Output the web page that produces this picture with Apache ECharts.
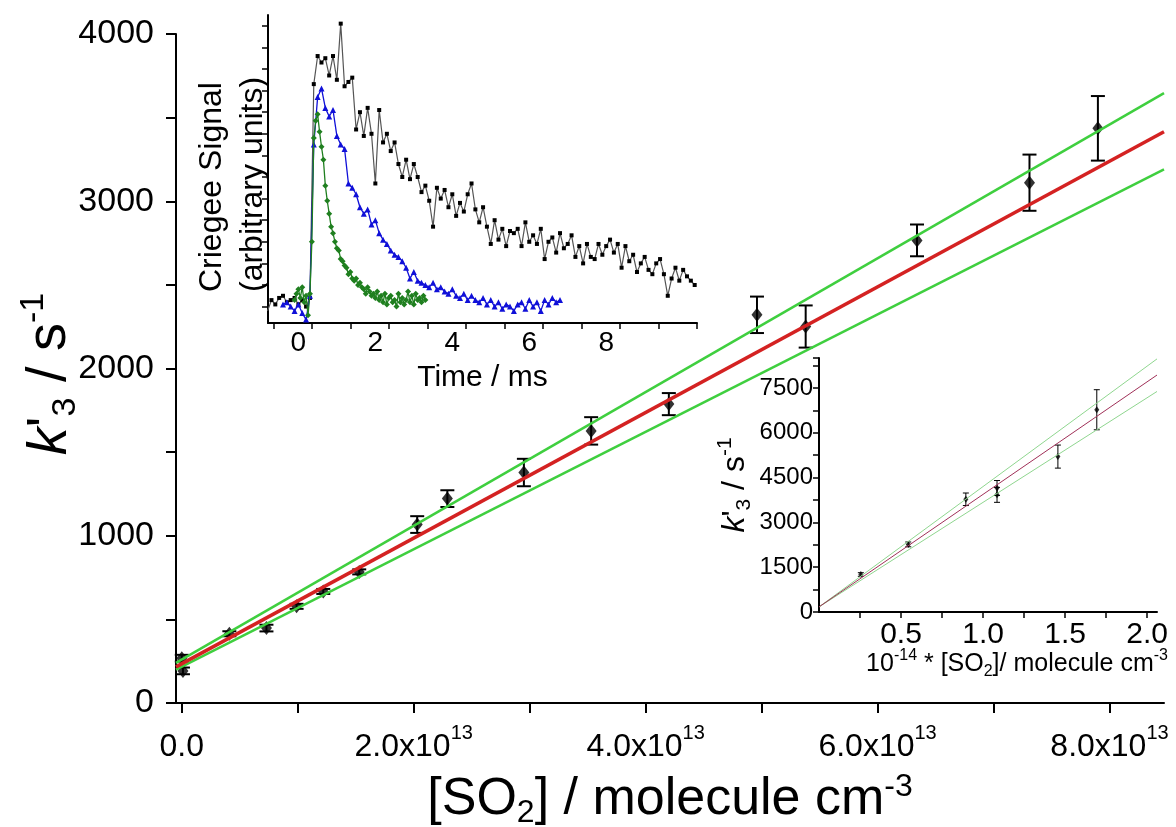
<!DOCTYPE html>
<html><head><meta charset="utf-8">
<script src="https://cdn.jsdelivr.net/npm/echarts@6/dist/echarts.min.js"></script>
<style>html,body{margin:0;padding:0;background:#fff}#c{width:1176px;height:827px}</style>
</head><body><div id="c"></div>
<script>
// ---- main plot: k'3 vs [SO2] ----
const mainX = [0.0, 0.01e13, 0.41e13, 0.73e13, 0.99e13, 1.22e13, 1.53e13, 2.03e13, 2.29e13, 2.95e13, 3.53e13, 4.20e13, 4.96e13, 5.38e13, 6.34e13, 7.31e13, 7.90e13];
const mainY = [268, 192, 414, 448, 578, 667, 784, 1067, 1222, 1378, 1627, 1787, 2321, 2251, 2766, 3111, 3436];
const mainErr = [20, 20, 15, 20, 15, 15, 15, 50, 50, 82, 82, 66, 109, 126, 95, 168, 193];
const fitLineX = [-5e11, 8.47e13];
const fitLineY = [216, 3416];
const upperLineY = [240, 3646];
const lowerLineY = [200, 3190];
const mainXTicks = [0, 1e13, 2e13, 3e13, 4e13, 5e13, 6e13, 7e13, 8e13];
const mainXLabels = [0, 2e13, 4e13, 6e13, 8e13];

// ---- inset 1: Criegee signal traces (sampled on a regular clock) ----
const blackT0 = -0.8, blackDt = 0.1;
const blackSig = [-0.2,0.3,0.1,0.4,0.5,0.2,0.3,0.4,0.1,0.3,0.0,0.4,
 10.3,11.6,11.3,11.5,10.7,11.6,10.5,13.1,10.2,10.4,
 10.6,8.2,9.0,7.9,9.2,8.0,5.7,9.1,7.6,8.0,
 7.2,7.6,6.6,6.0,6.8,5.9,6.6,6.0,5.3,5.6,
 4.9,3.7,5.5,5.0,5.4,4.6,5.2,4.2,4.8,4.4,
 5.2,5.7,4.5,3.9,4.6,3.7,2.9,4.0,3.1,3.6,
 2.8,3.5,3.4,3.6,2.8,3.9,3.0,3.3,2.9,3.6,
 2.2,3.0,3.2,2.5,3.4,2.7,2.9,3.3,2.3,2.8,
 2.0,2.9,2.3,2.2,2.9,2.4,2.8,3.1,2.5,2.9,
 1.8,2.8,2.1,2.4,1.6,2.0,2.3,1.7,1.5,2.0,
 2.2,1.5,0.5,1.3,1.8,1.2,1.7,1.4,1.2,1.0];
const blueT0 = -0.4, blueDt = 0.1;
const blueSig = [0.1,0.2,0.0,-0.2,0.1,-0.3,-0.6,0.5,
 7.5,9.7,10.1,9.2,8.8,9.1,7.9,7.5,7.3,5.7,
 5.5,5.2,4.6,4.3,4.5,3.8,4.0,3.4,3.1,2.9,
 2.6,2.4,2.3,2.1,1.8,1.3,1.6,1.2,1.1,1.0,
 0.9,1.1,0.8,0.9,0.7,0.6,0.8,0.5,0.4,0.6,
 0.3,0.5,0.3,0.2,0.4,0.1,0.3,0.0,0.2,-0.1,
 0.1,0.0,-0.2,0.1,0.2,-0.1,0.3,0.0,0.2,-0.2,
 0.3,0.1,0.4,0.2,0.3];
const greenT0 = -0.1, greenDt = 0.05;
const greenSig = [0.3,0.6,0.8,0.4,0.9,0.2,0.5,-0.4,0.6,3.0,
 7.8,8.6,8.9,8.1,7.4,6.8,5.6,4.9,4.3,3.7,
 3.4,3.0,2.7,2.6,2.2,2.1,1.9,1.8,1.5,1.6,
 1.3,1.2,1.3,1.0,1.1,0.9,0.8,0.6,0.9,0.7,
 0.5,0.6,0.4,0.7,0.3,0.5,0.2,0.6,0.1,0.4,
 0.5,0.2,0.3,0.0,0.6,0.2,0.4,0.1,0.3,0.7,
 0.2,0.5,0.1,0.6,0.3,0.4,0.2,0.5,0.3];
const timeTicks = [-0.64,0.36,1.36,2.36,3.36,4.36,5.36,6.36,7.36,8.36,9.36,10.36];
const timeLabels = [0, 2, 4, 6, 8];
const sigTicks = [0,1,2,3,4,5,6,7,8,9,10,11,12,13];

// ---- inset 2: extended range (10^-14 * [SO2]) ----
const inX = [0.255, 0.544, 0.895, 1.085, 1.085, 1.456, 1.693];
const inY = [1255, 2262, 3772, 4150, 3920, 5201, 6768];
const inErr = [60, 80, 210, 250, 250, 386, 671];
const inLineX = [0, 2.06];
const inFitY = [170, 7930];
const inUpperY = [170, 8470];
const inLowerY = [170, 7380];
const inXTicks = [0.25,0.5,0.75,1.0,1.25,1.5,1.75,2.0];
const inXLabels = [0.5,1.0,1.5,2.0];

const FONT = '"Liberation Sans", Arial, sans-serif';
const NARROW = '"Liberation Sans Narrow", "Liberation Sans", Arial, sans-serif';
const zip = (xs, ys) => xs.map((x, i) => [x, ys[i]]);
const trace = (t0, dt, ys) => ys.map((y, i) => [t0 + i * dt, y]);

function errBars(capHalf, lw) {
  return function (params, api) {
    const x = api.value(0), y = api.value(1), e = api.value(2);
    const a = api.coord([x, y + e]), b = api.coord([x, y - e]);
    const st = { stroke: '#000', lineWidth: lw };
    return { type: 'group', children: [
      { type: 'line', shape: { x1: a[0], y1: a[1], x2: b[0], y2: b[1] }, style: st },
      { type: 'line', shape: { x1: a[0] - capHalf, y1: a[1], x2: a[0] + capHalf, y2: a[1] }, style: st },
      { type: 'line', shape: { x1: b[0] - capHalf, y1: b[1], x2: b[0] + capHalf, y2: b[1] }, style: st }
    ]};
  };
}

const axLine = { show: true, onZero: false, lineStyle: { color: '#000', width: 2 } };
const chart = echarts.init(document.getElementById('c'));
chart.setOption({
  animation: false,
  backgroundColor: '#fff',
  textStyle: { fontFamily: FONT },
  grid: [
    { left: 176, top: 34, width: 988, height: 669, outerBoundsMode: 'none', containLabel: false },
    { left: 268, top: 15, width: 429, height: 308, outerBoundsMode: 'none', containLabel: false },
    { left: 819, top: 358, width: 338, height: 254, outerBoundsMode: 'none', containLabel: false }
  ],
  xAxis: [
    { gridIndex: 0, type: 'value', min: -5e11, max: 8.47e13,
      axisLine: axLine, splitLine: { show: false },
      axisTick: { customValues: mainXTicks, length: 10, lineStyle: { width: 2, color: '#000' } },
      axisLabel: { customValues: mainXLabels, margin: 20, color: '#000',
        formatter: v => v === 0 ? '{b|0.0}' : '{b|' + (v / 1e13).toFixed(1) + 'x10}{s|13}',
        rich: { b: { fontSize: 32, fontFamily: FONT, color: '#000', lineHeight: 40, verticalAlign: 'bottom' },
                s: { fontSize: 20, fontFamily: FONT, color: '#000', lineHeight: 40, verticalAlign: 'top' } } },
      name: '{n|[SO}{b|2}{n|] / molecule cm}{s|-3}', nameLocation: 'middle', nameGap: 68,
      nameTextStyle: { rich: {
        n: { fontSize: 52, fontFamily: FONT, color: '#000', lineHeight: 58, verticalAlign: 'middle' },
        b: { fontSize: 32, fontFamily: FONT, color: '#000', lineHeight: 58, verticalAlign: 'bottom' },
        s: { fontSize: 32, fontFamily: FONT, color: '#000', lineHeight: 58, verticalAlign: 'top' } } } },
    { gridIndex: 1, type: 'value', min: -0.79, max: 10.36,
      axisLine: axLine, splitLine: { show: false },
      axisTick: { customValues: timeTicks, length: 6, lineStyle: { width: 1.5, color: '#000' } },
      axisLabel: { customValues: timeLabels, margin: 6, fontSize: 28, color: '#000', fontFamily: FONT },
      name: 'Time / ms', nameLocation: 'middle', nameGap: 40,
      nameTextStyle: { fontSize: 30, color: '#000', fontFamily: FONT } },
    { gridIndex: 2, type: 'value', min: 0, max: 2.06,
      axisLine: axLine, splitLine: { show: false },
      axisTick: { customValues: inXTicks, length: 6, lineStyle: { width: 1.5, color: '#000' } },
      axisLabel: { customValues: inXLabels, margin: 8, fontSize: 30, color: '#000', fontFamily: FONT,
        formatter: v => v.toFixed(1) } }
  ],
  yAxis: [
    { gridIndex: 0, type: 'value', min: 0, max: 4000, interval: 500,
      axisLine: axLine, splitLine: { show: false },
      axisTick: { length: 10, lineStyle: { width: 2, color: '#000' } },
      axisLabel: { margin: 22, fontSize: 34, color: '#000', fontFamily: FONT,
        formatter: v => (v % 1000 === 0 ? String(v) : '') } },
    { gridIndex: 1, type: 'value', min: -0.76, max: 13.5,
      axisLine: axLine, splitLine: { show: false },
      axisTick: { customValues: sigTicks, length: 6, lineStyle: { width: 1.5, color: '#000' } },
      axisLabel: { show: false } },
    { gridIndex: 2, type: 'value', min: 0, max: 8500, interval: 750,
      axisLine: axLine, splitLine: { show: false },
      axisTick: { length: 6, lineStyle: { width: 1.5, color: '#000' } },
      axisLabel: { margin: 6, fontSize: 24, color: '#000', fontFamily: FONT,
        formatter: v => (v % 1500 === 0 ? String(v) : '') },
      name: "{i|k}{n|'}{b|3}{n| / s}{s|-1}", nameLocation: 'middle', nameGap: 64, nameRotate: 90,
      nameTextStyle: { rich: {
        i: { fontSize: 32, fontStyle: 'italic', fontFamily: FONT, color: '#000', lineHeight: 40, verticalAlign: 'middle' },
        n: { fontSize: 32, fontFamily: FONT, color: '#000', lineHeight: 40, verticalAlign: 'middle' },
        b: { fontSize: 21, fontFamily: FONT, color: '#000', lineHeight: 40, verticalAlign: 'bottom' },
        s: { fontSize: 21, fontFamily: FONT, color: '#000', lineHeight: 40, verticalAlign: 'top' } } } }
  ],
  graphic: [
    { type: 'text', x: 50, y: 374, rotation: Math.PI / 2,
      style: { text: "{i|k}{n|'}{b|3}{n| / s}{s|-1}", align: 'center', verticalAlign: 'middle',
        rich: {
          i: { fontSize: 56, fontStyle: 'italic', fontFamily: FONT, fill: '#000', lineHeight: 66, verticalAlign: 'middle' },
          n: { fontSize: 56, fontFamily: FONT, fill: '#000', lineHeight: 66, verticalAlign: 'middle' },
          b: { fontSize: 34, fontFamily: FONT, fill: '#000', lineHeight: 66, verticalAlign: 'bottom' },
          s: { fontSize: 34, fontFamily: FONT, fill: '#000', lineHeight: 66, verticalAlign: 'top' } } } },
    { type: 'text', x: 212, y: 292, rotation: Math.PI / 2,
      style: { text: 'Criegee Signal', font: '32px ' + FONT, fill: '#000', textAlign: 'left', textVerticalAlign: 'middle' } },
    { type: 'text', x: 253, y: 292, rotation: Math.PI / 2,
      style: { text: '(arbitrary units)', font: '32px ' + FONT, fill: '#000', textAlign: 'left', textVerticalAlign: 'middle' } },
    { type: 'text', x: 1168, y: 664,
      style: { text: '{n|10}{s|-14}{n| * [SO}{b|2}{n|]/ molecule cm}{s|-3}', align: 'right', verticalAlign: 'middle',
        rich: {
          n: { fontSize: 25, fontFamily: NARROW, fill: '#000', lineHeight: 32, verticalAlign: 'middle' },
          s: { fontSize: 16, fontFamily: NARROW, fill: '#000', lineHeight: 32, verticalAlign: 'top' },
          b: { fontSize: 16, fontFamily: NARROW, fill: '#000', lineHeight: 32, verticalAlign: 'bottom' } } } }
  ],
  series: [
    // main
    { type: 'custom', xAxisIndex: 0, yAxisIndex: 0, renderItem: errBars(7, 2),
      data: mainX.map((x, i) => [x, mainY[i], mainErr[i]]), encode: { x: 0, y: 1 }, z: 2 },
    { type: 'scatter', xAxisIndex: 0, yAxisIndex: 0, symbol: 'diamond', symbolSize: [11, 14],
      itemStyle: { color: '#000' }, data: zip(mainX, mainY), z: 3 },
    { type: 'line', xAxisIndex: 0, yAxisIndex: 0, showSymbol: false, data: zip(fitLineX, upperLineY),
      lineStyle: { color: '#3fcf3f', width: 2.5 }, z: 4 },
    { type: 'line', xAxisIndex: 0, yAxisIndex: 0, showSymbol: false, data: zip(fitLineX, lowerLineY),
      lineStyle: { color: '#3fcf3f', width: 2.5 }, z: 4 },
    { type: 'line', xAxisIndex: 0, yAxisIndex: 0, showSymbol: false, data: zip(fitLineX, fitLineY),
      lineStyle: { color: '#d42222', width: 3.5 }, z: 5 },
    // inset 1
    { type: 'line', xAxisIndex: 1, yAxisIndex: 1, data: trace(blackT0, blackDt, blackSig),
      symbol: 'rect', symbolSize: 4, showSymbol: true, itemStyle: { color: '#000' },
      lineStyle: { color: '#555', width: 1.2 }, z: 6 },
    { type: 'line', xAxisIndex: 1, yAxisIndex: 1, data: trace(blueT0, blueDt, blueSig),
      symbol: 'triangle', symbolSize: 6, showSymbol: true, itemStyle: { color: '#1010d8' },
      lineStyle: { color: '#1010d8', width: 1.3 }, z: 7 },
    { type: 'line', xAxisIndex: 1, yAxisIndex: 1, data: trace(greenT0, greenDt, greenSig),
      symbol: 'diamond', symbolSize: 6, showSymbol: true, itemStyle: { color: '#1f7f1f' },
      lineStyle: { color: '#1f7f1f', width: 1.3 }, z: 8 },
    // inset 2
    { type: 'custom', xAxisIndex: 2, yAxisIndex: 2, renderItem: errBars(3, 1),
      data: inX.map((x, i) => [x, inY[i], inErr[i]]), encode: { x: 0, y: 1 }, z: 2 },
    { type: 'scatter', xAxisIndex: 2, yAxisIndex: 2, symbol: 'diamond', symbolSize: [5, 7],
      itemStyle: { color: '#000' }, data: zip(inX, inY), z: 3 },
    { type: 'line', xAxisIndex: 2, yAxisIndex: 2, showSymbol: false, data: zip(inLineX, inUpperY),
      lineStyle: { color: '#8fd68f', width: 1 }, z: 4 },
    { type: 'line', xAxisIndex: 2, yAxisIndex: 2, showSymbol: false, data: zip(inLineX, inLowerY),
      lineStyle: { color: '#8fd68f', width: 1 }, z: 4 },
    { type: 'line', xAxisIndex: 2, yAxisIndex: 2, showSymbol: false, data: zip(inLineX, inFitY),
      lineStyle: { color: '#a03058', width: 1 }, z: 5 }
  ]
});
</script></body></html>
